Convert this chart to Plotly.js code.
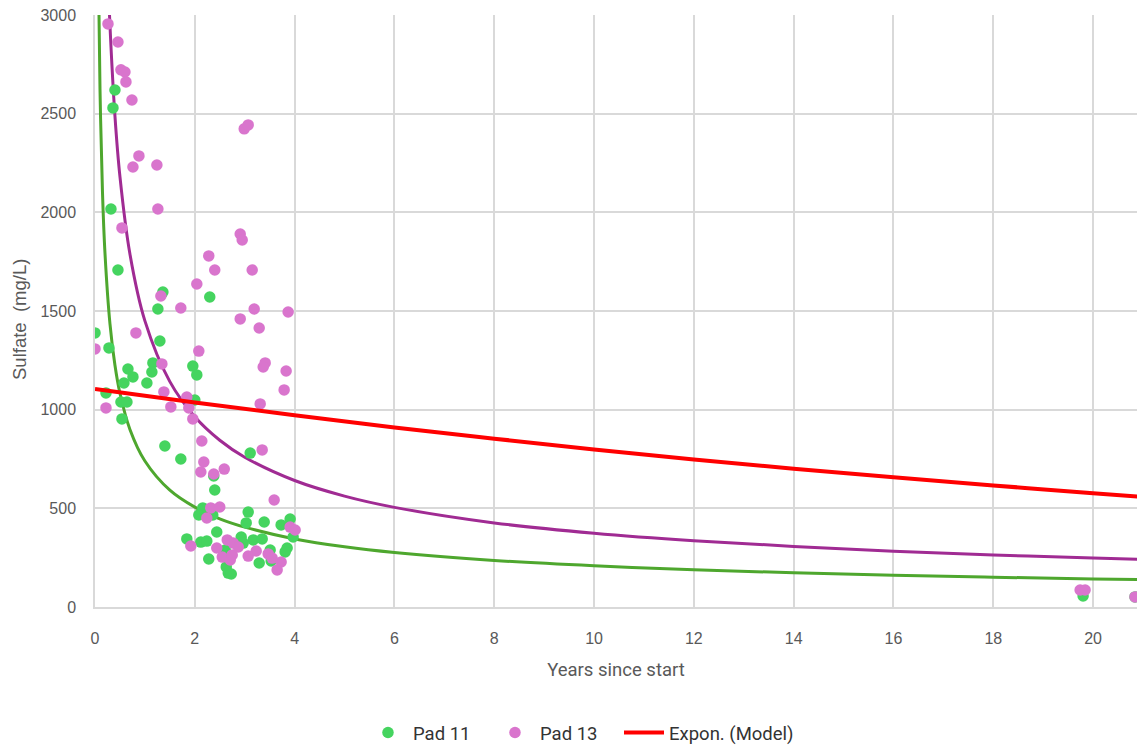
<!DOCTYPE html>
<html>
<head>
<meta charset="utf-8">
<script src="https://cdn.plot.ly/plotly-3.0.1.min.js"></script>
<style>html,body{margin:0;padding:0;background:#fff;}#chart{width:1137px;height:747px;}</style>
</head>
<body>
<div id="chart"></div>
<script>
// Pad 11 observations (years since start, sulfate mg/L)
const pad11Years = [0.40,0.36,0.32,0.46,1.36,1.26,0,0.28,1.30,2.30,1.16,1.14,0.66,0.76,0.58,1.04,1.96,2.04,0.22,0.52,0.64,2.00,0.54,1.40,1.72,3.11,2.38,2.40,2.16,2.08,2.36,3.07,3.91,3.03,3.39,3.73,2.44,3.97,1.84,2.12,2.24,2.93,3.17,3.35,2.97,2.61,3.51,2.28,3.29,3.53,3.85,3.81,2.63,2.67,2.73,19.80,20.84];
const pad11Sulfate = [2620,2529,2017,1708,1596,1510,1389,1313,1348,1571,1237,1191,1206,1166,1135,1135,1221,1176,1085,1039,1039,1049,953,816,750,780,664,593,502,466,466,481,446,426,431,416,380,355,345,329,334,355,340,345,324,289,289,243,223,233,299,279,203,172,167,56,51];

// Pad 13 observations
const pad13Years = [0,0.26,0.46,0.52,0.60,0.62,0.74,0.88,0.76,1.24,1.26,0.54,2.99,3.07,2.91,2.95,2.28,2.40,3.15,2.04,1.32,1.72,3.19,3.87,2.91,3.29,2.08,3.41,3.37,3.83,3.79,0.82,1.34,1.38,1.84,1.88,1.52,0.22,3.31,1.96,2.14,3.35,2.18,2.59,2.12,2.38,3.59,2.32,2.50,2.24,3.91,4.01,1.92,2.65,2.77,2.87,2.44,3.23,3.07,3.47,3.55,2.55,2.71,2.75,3.73,3.65,19.74,19.84,20.84];
const pad13Sulfate = [1308,2955,2863,2722,2711,2661,2569,2286,2230,2240,2017,1921,2423,2443,1890,1860,1779,1708,1708,1637,1576,1515,1510,1495,1460,1414,1297,1237,1216,1196,1100,1389,1232,1090,1064,1009,1014,1009,1029,953,841,796,735,699,684,674,542,502,507,451,405,390,309,340,324,304,299,284,258,269,248,253,238,264,228,188,86,86,51];

// Trendlines
const pad11TrendYears = [0.07,0.1,0.15,0.2,0.3,0.4,0.5,0.7,1,1.5,2,2.5,3,4,5,6,8,10,12,14,16,18,20,20.9];
const pad11TrendSulfate = [3195,2626,2101,1793,1435,1225,1083,900,740,592,506,447,405,345,305,276,236,209,189,173,161,151,142,139];

const pad13TrendYears = [0.25,0.3,0.4,0.5,0.7,1,1.5,2,2.5,3,4,5,6,8,10,12,14,16,18,20,20.9];
const pad13TrendSulfate = [3281,2947,2488,2181,1789,1450,1142,964,845,759,641,562,505,426,374,336,307,283,264,248,242];

const modelYears = [0,2,4,6,8,10,12,14,16,18,20,20.9];
const modelSulfate = [1105,1036,972,910,853,798,748,701,657,616,577,560];

const xTicks = [0,2,4,6,8,10,12,14,16,18,20];
const yTicks = [0,500,1000,1500,2000,2500,3000];

const traces = [
  {x: pad11TrendYears, y: pad11TrendSulfate, mode: 'lines', type: 'scatter', name: 'Power (Pad 11)',
   line: {color: '#4EA72E', width: 3, shape: 'spline'}, showlegend: false, hoverinfo: 'skip'},
  {x: pad13TrendYears, y: pad13TrendSulfate, mode: 'lines', type: 'scatter', name: 'Power (Pad 13)',
   line: {color: '#A02B93', width: 3, shape: 'spline'}, showlegend: false, hoverinfo: 'skip'},
  {x: pad11Years, y: pad11Sulfate, mode: 'markers', type: 'scatter', name: 'Pad 11',
   marker: {color: '#45D45F', size: 11.5}, cliponaxis: true, legend: 'legend'},
  {x: pad13Years, y: pad13Sulfate, mode: 'markers', type: 'scatter', name: 'Pad 13',
   marker: {color: '#D975CD', size: 11.5}, cliponaxis: true, legend: 'legend2'},
  {x: modelYears, y: modelSulfate, mode: 'lines', type: 'scatter', name: 'Expon. (Model)',
   line: {color: '#FF0000', width: 4, shape: 'spline'}, legend: 'legend3'}
];

const legendFont = {family: 'Roboto, sans-serif', size: 18.5, color: '#333333'};
function legendAt(px) {
  return {orientation: 'h', xref: 'container', yref: 'container', x: px / 1137, xanchor: 'left',
    y: 14 / 747, yanchor: 'middle', font: legendFont, itemwidth: 40, bgcolor: 'rgba(0,0,0,0)'};
}

const layout = {
  width: 1137, height: 747,
  margin: {l: 95, r: 0, t: 15, b: 140},
  paper_bgcolor: '#ffffff', plot_bgcolor: '#ffffff',
  showlegend: true,
  legend: legendAt(363),
  legend2: legendAt(490),
  legend3: legendAt(619),
  xaxis: {
    range: [0, 20.88], tickvals: xTicks, ticktext: xTicks.map(String),
    showgrid: true, gridcolor: '#D9D9D9', gridwidth: 1.5,
    zeroline: false, showline: true, linecolor: '#D9D9D9', linewidth: 1.5,
    ticks: '', ticklabelstandoff: 16,
    tickfont: {family: 'Liberation Sans, Arial, sans-serif', size: 16, color: '#595959'},
    title: {text: 'Years since start', standoff: 17,
      font: {family: 'Roboto, sans-serif', size: 18.5, color: '#595959'}}
  },
  yaxis: {
    range: [0, 3000], tickvals: yTicks, ticktext: yTicks.map(String),
    showgrid: true, gridcolor: '#D9D9D9', gridwidth: 1.5,
    zeroline: false, showline: true, linecolor: '#D9D9D9', linewidth: 1.5,
    ticks: '', ticklabelstandoff: 14,
    tickfont: {family: 'Liberation Sans, Arial, sans-serif', size: 16, color: '#595959'}
  },
  annotations: [{
    text: 'Sulfate\u00a0\u00a0(mg/L)', textangle: -90, showarrow: false,
    xref: 'paper', yref: 'paper', x: (20 - 95) / 1042, y: (607 - 320) / 592,
    xanchor: 'center', yanchor: 'middle',
    font: {family: 'Liberation Sans, Arial, sans-serif', size: 18.5, color: '#595959'}
  }]
};

Plotly.newPlot('chart', traces, layout, {displayModeBar: false, responsive: false});
</script>
</body>
</html>
